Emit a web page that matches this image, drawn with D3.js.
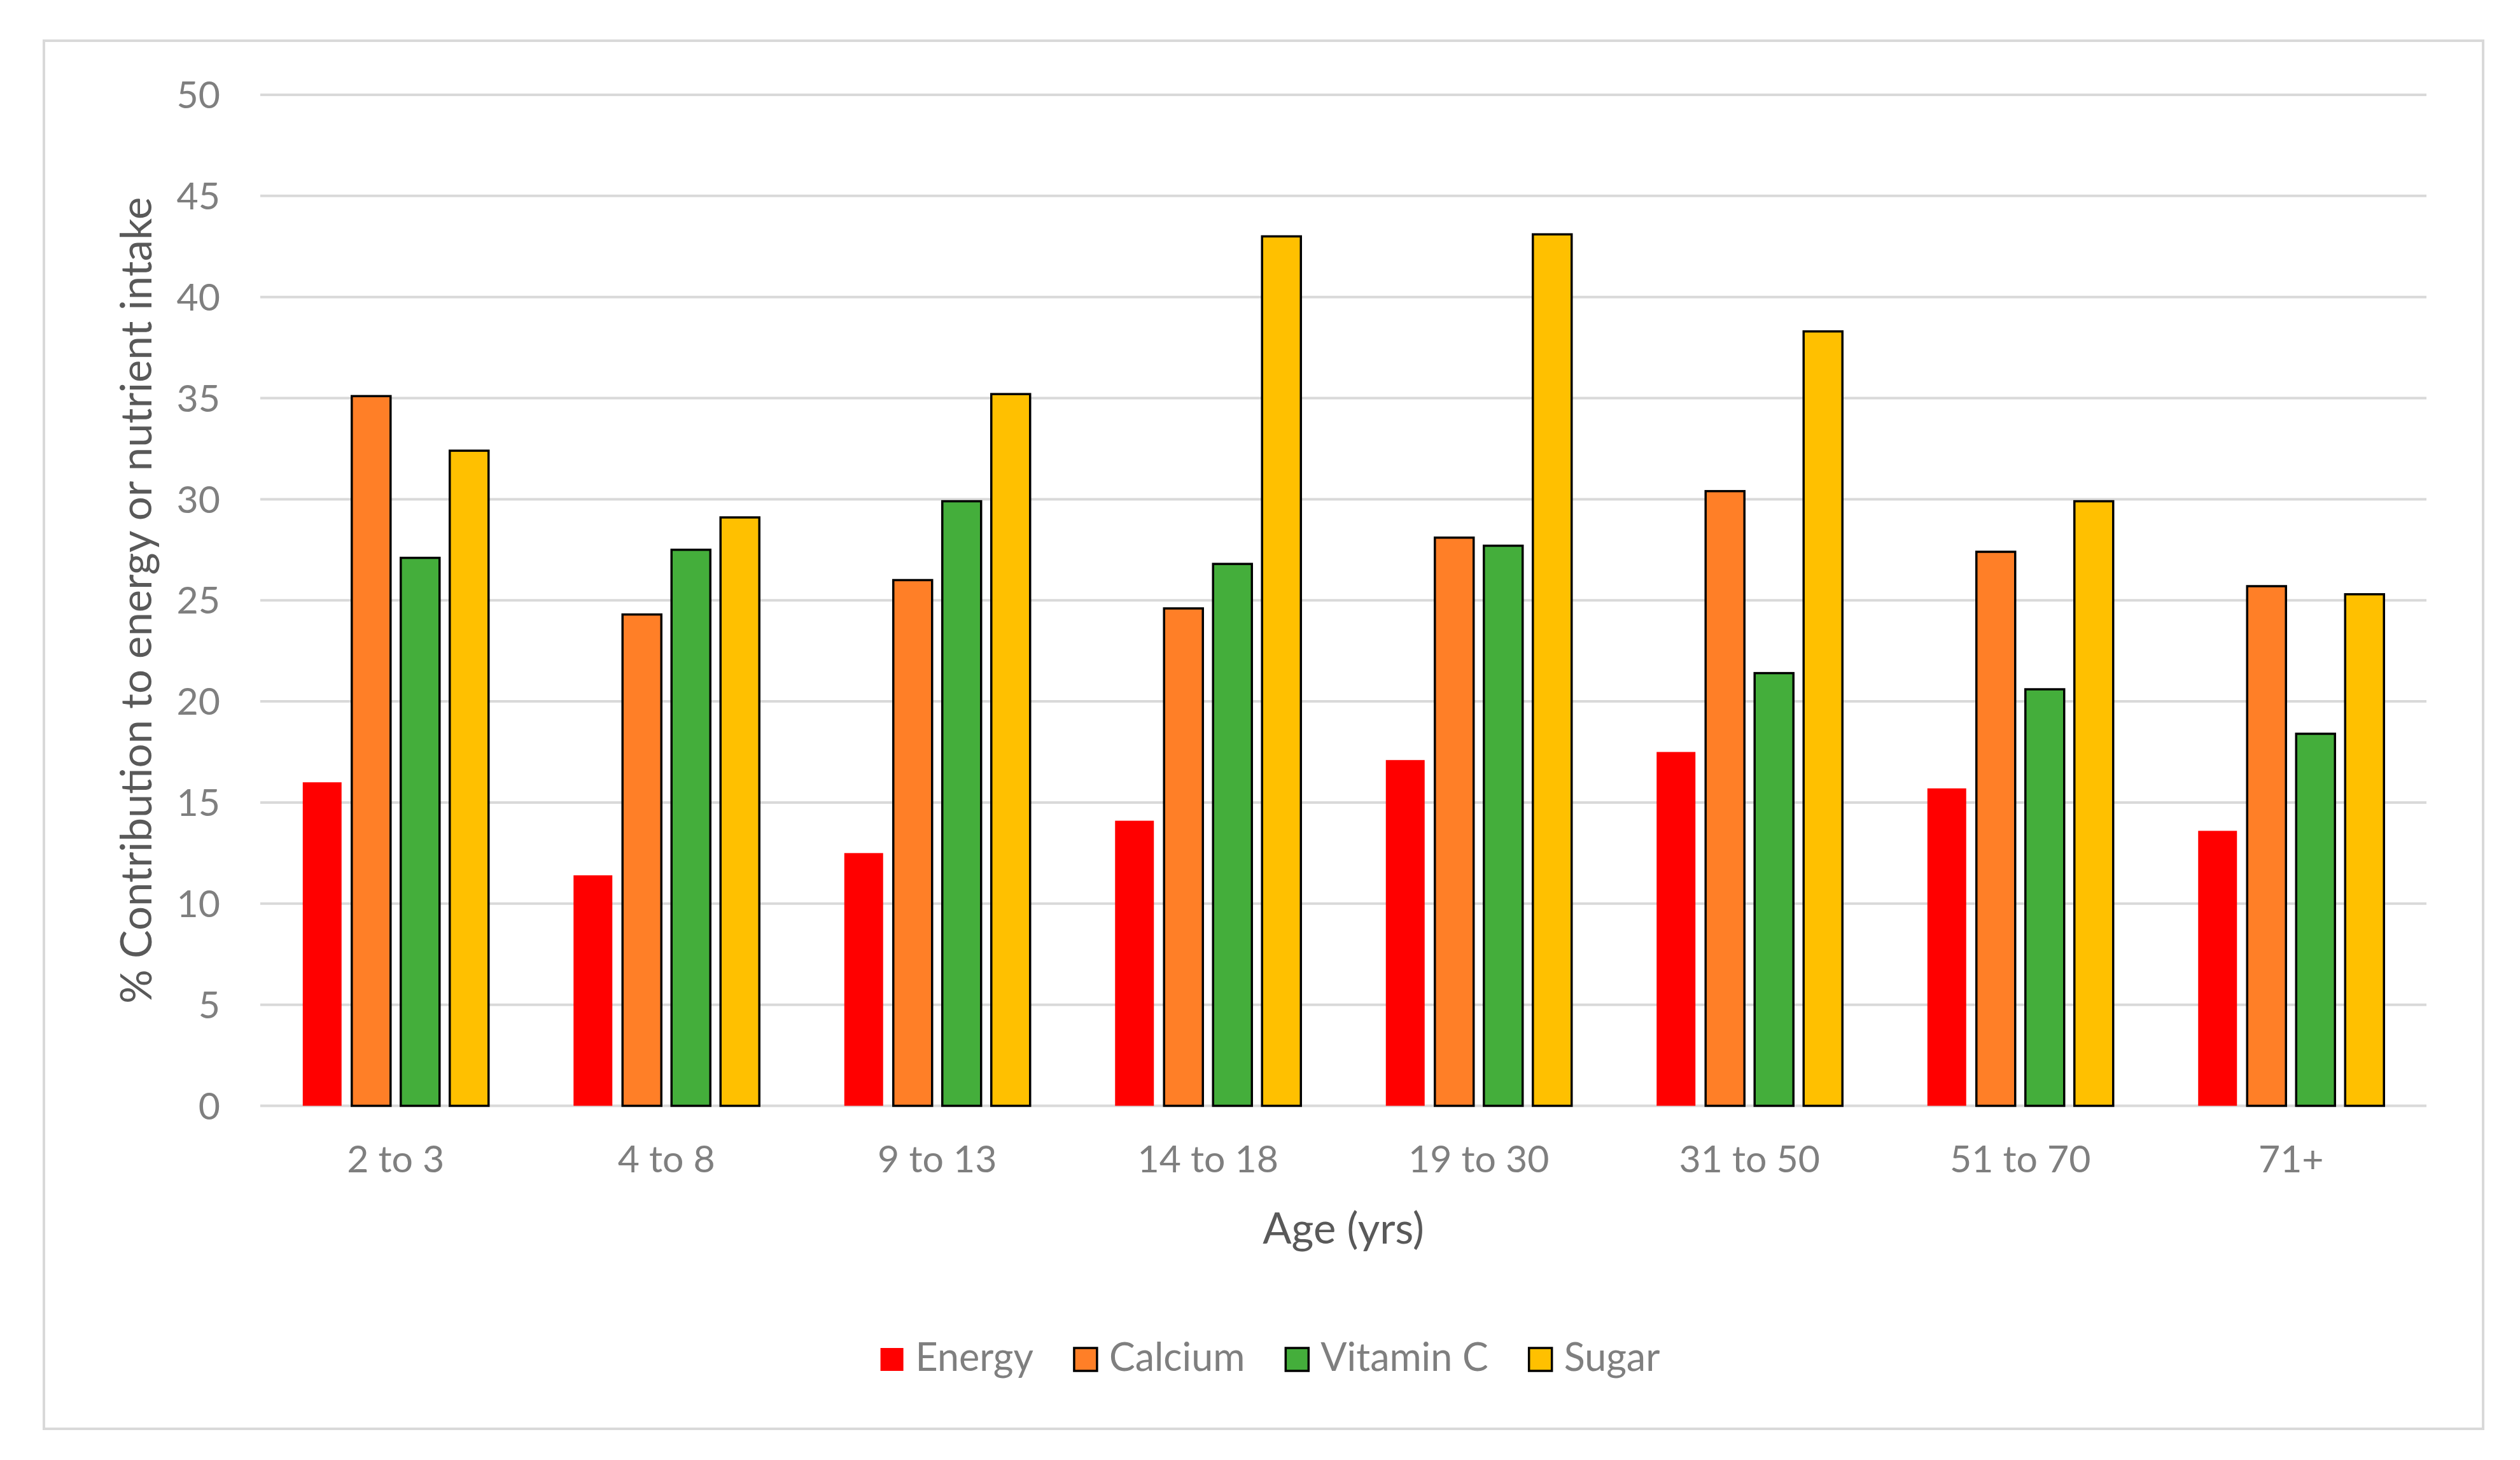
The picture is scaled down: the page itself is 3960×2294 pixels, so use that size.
<!DOCTYPE html>
<html><head><meta charset="utf-8">
<script src="https://cdn.jsdelivr.net/npm/d3@7"></script>
<style>html,body{margin:0;padding:0;background:#fff;}</style>
</head><body>
<svg id="chart" width="3960" height="2294"></svg>
<script>
const categories = ["2 to 3","4 to 8","9 to 13","14 to 18","19 to 30","31 to 50","51 to 70","71+"];
const seriesNames = ["Energy","Calcium","Vitamin C","Sugar"];
const energy   = [16.0, 11.4, 12.5, 14.1, 17.1, 17.5, 15.7, 13.6];
const calcium  = [35.1, 24.3, 26.0, 24.6, 28.1, 30.4, 27.4, 25.7];
const vitaminC = [27.1, 27.5, 29.9, 26.8, 27.7, 21.4, 20.6, 18.4];
const sugar    = [32.4, 29.1, 35.2, 43.0, 43.1, 38.3, 29.9, 25.3];
const yTicks = [0,5,10,15,20,25,30,35,40,45,50];
const colors = ["#FF0000","#FF7F27","#44AE3B","#FFC000"];
const strokes = ["none","#000","#000","#000"];

const seriesValues = [energy, calcium, vitaminC, sugar];
const FONT = "Lato, 'Open Sans', sans-serif";

const svg = d3.select("#chart");
svg.append("rect").attr("x",0).attr("y",0).attr("width",3960).attr("height",2294).attr("fill","#fff");
svg.append("rect").attr("x",69).attr("y",64).attr("width",3833).attr("height",2181)
  .attr("fill","#fff").attr("stroke","#D9D9D9").attr("stroke-width",4);

const pL = 409, pR = 3813, pT = 149, pB = 1737.5;
const x0 = d3.scaleBand().domain(categories).range([pL,pR]).padding(0);
const x1 = d3.scaleBand().domain(seriesNames).range([0,x0.bandwidth()]).paddingInner(0.208).paddingOuter(0.867);
const y = d3.scaleLinear().domain([0,50]).range([pB,pT]);

// gridlines
svg.append("g").selectAll("line").data(yTicks).join("line")
  .attr("x1",pL).attr("x2",pR)
  .attr("y1",d=>y(d)).attr("y2",d=>y(d))
  .attr("stroke","#D9D9D9").attr("stroke-width",4);

// y tick labels
svg.append("g").selectAll("text").data(yTicks).join("text")
  .attr("x",346).attr("y",d=>y(d)).attr("dy","0.36em")
  .attr("text-anchor","end").attr("font-family",FONT).attr("font-size",59)
  .attr("fill","#7F7F7F").text(d=>d);

// bars
const groups = svg.append("g").selectAll("g").data(categories).join("g")
  .attr("transform",d=>`translate(${x0(d)},0)`);
groups.selectAll("rect").data((c,ci)=>seriesNames.map((s,si)=>({s,si,v:seriesValues[si][ci]}))).join("rect")
  .attr("x",d=>x1(d.s)).attr("width",x1.bandwidth())
  .attr("y",d=>y(d.v)).attr("height",d=>y(0)-y(d.v))
  .attr("fill",d=>colors[d.si]).attr("stroke",d=>strokes[d.si]).attr("stroke-width",3.5);

// x labels
svg.append("g").selectAll("text").data(categories).join("text")
  .attr("x",d=>x0(d)+x0.bandwidth()/2).attr("y",1842)
  .attr("text-anchor","middle").attr("font-family",FONT).attr("font-size",59)
  .attr("fill","#7F7F7F").text(d=>d);

// axis titles
svg.append("text").attr("x",(pL+pR)/2).attr("y",1954).attr("text-anchor","middle")
  .attr("font-family",FONT).attr("font-size",67).attr("fill","#595959").text("Age (yrs)");
svg.append("text").attr("transform",`translate(238,${(pT+pB)/2}) rotate(-90)`)
  .attr("text-anchor","middle").attr("font-family",FONT).attr("font-size",67)
  .attr("fill","#595959").text("% Contribution to energy or nutrient intake");

// legend
const leg = svg.append("g");
const items = leg.selectAll("g").data(seriesNames).join("g");
items.append("rect").attr("x",0).attr("y",2118).attr("width",36).attr("height",36)
  .attr("fill",(d,i)=>colors[i]).attr("stroke",(d,i)=>strokes[i]).attr("stroke-width",3.5);
items.append("text").attr("x",55).attr("y",2154).attr("font-family",FONT).attr("font-size",61)
  .attr("fill","#7F7F7F").text(d=>d);
const gap = 64; const widths=[];
items.each(function(){ const w = 55 + d3.select(this).select("text").node().getComputedTextLength(); widths.push(w); });
const total = d3.sum(widths) + gap*(widths.length-1);
let start = 1996 - total/2;
items.attr("transform",(d,i)=>{ const t=`translate(${start},0)`; start += widths[i]+gap; return t; });
</script>
</body></html>
